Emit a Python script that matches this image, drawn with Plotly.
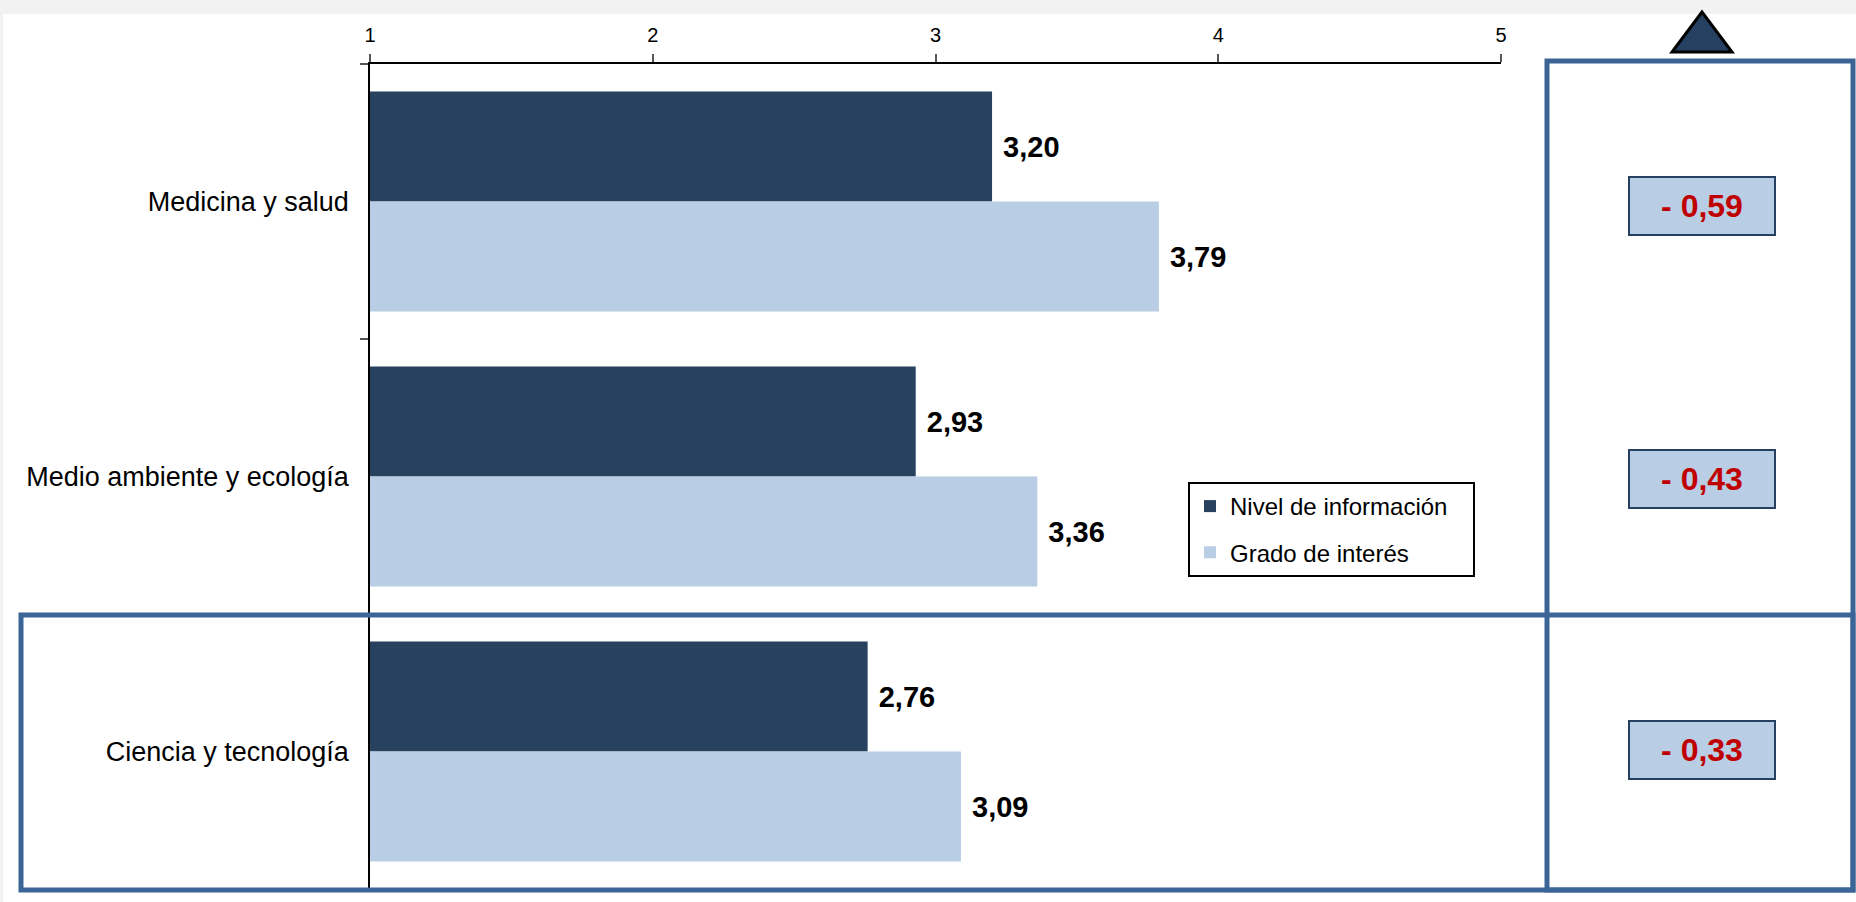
import plotly.graph_objects as go

# ---- data ----
categorias = ["Medicina y salud", "Medio ambiente y ecología", "Ciencia y tecnología"]
nivel_informacion = [3.20, 2.93, 2.76]
grado_interes = [3.79, 3.36, 3.09]
diferencias = [-0.59, -0.43, -0.33]
series_nombres = ["Nivel de información", "Grado de interés"]
x_ticks = [1, 2, 3, 4, 5]

W, H = 1856, 902
L, R, T, B = 370, 1501, 64, 889


def xp(px):
    return (px - L) / (R - L)


def yp(py):
    return (B - py) / (B - T)


def fmt(v):
    return f"{v:.2f}".replace(".", ",")


def fmt_diff(v):
    s = f"{abs(v):.2f}".replace(".", ",")
    return ("- " if v < 0 else "+ ") + s


FONT = "Arial, 'Liberation Sans', sans-serif"
DARK = "#27415F"
LIGHT = "#B9CDE5"
FRAME = "#3B6596"
PAD = "\u00a0" * 3  # extra right padding inside the legend box

fig = go.Figure()
fig.add_trace(go.Bar(
    y=categorias, x=nivel_informacion, orientation="h", name=series_nombres[0] + PAD,
    marker=dict(color=DARK, line=dict(width=0)), legendgroup="a",
    text=["\u00a0" + fmt(v) for v in nivel_informacion], textposition="outside",
    textfont=dict(family=FONT, size=29, color="black", weight="bold"),
    cliponaxis=False, constraintext="none", base=0,
))
fig.add_trace(go.Bar(
    y=categorias, x=grado_interes, orientation="h", name=series_nombres[1],
    marker=dict(color=LIGHT, line=dict(width=0)), legendgroup="b",
    text=["\u00a0" + fmt(v) for v in grado_interes], textposition="outside",
    textfont=dict(family=FONT, size=29, color="black", weight="bold"),
    cliponaxis=False, constraintext="none", base=0,
))

annotations = []
for c, d, ys in zip(categorias, diferencias, [-4, -2, 2]):
    annotations.append(dict(
        x=xp(1702), xref="paper", y=c, yref="y", text="<b>" + fmt_diff(d) + "</b>",
        showarrow=False, font=dict(family=FONT, size=32, color="#C00000"),
        bgcolor=LIGHT, bordercolor="#254061", borderwidth=2, borderpad=0,
        width=144, height=56, xanchor="center", yanchor="middle", yshift=ys,
    ))

shapes = [
    # grey page strip at top and left
    dict(type="rect", xref="paper", yref="paper", x0=xp(0), x1=xp(W), y0=yp(14), y1=yp(0),
         fillcolor="#F2F2F2", line=dict(width=0), layer="below"),
    dict(type="rect", xref="paper", yref="paper", x0=xp(0), x1=xp(3), y0=yp(H), y1=yp(0),
         fillcolor="#F2F2F2", line=dict(width=0), layer="below"),
    # frames
    dict(type="rect", xref="paper", yref="paper", x0=xp(1547), x1=xp(1853), y0=yp(890), y1=yp(61),
         line=dict(color=FRAME, width=5), fillcolor="rgba(0,0,0,0)", layer="above"),
    dict(type="rect", xref="paper", yref="paper", x0=xp(21), x1=xp(1853), y0=yp(890), y1=yp(615),
         line=dict(color=FRAME, width=5), fillcolor="rgba(0,0,0,0)", layer="above"),
    # triangle
    dict(type="path", xref="paper", yref="paper",
         path=f"M {xp(1702)} {yp(12)} L {xp(1672)} {yp(52)} L {xp(1732)} {yp(52)} Z",
         fillcolor="#254061", line=dict(color="black", width=3), layer="above"),
]

fig.update_layout(
    width=W, height=H,
    margin=dict(l=L, r=W - R, t=T, b=H - B, pad=0),
    paper_bgcolor="white", plot_bgcolor="white",
    barmode="group", bargap=0.2, bargroupgap=0,
    font=dict(family=FONT, color="black"),
    showlegend=True,
    legend=dict(
        x=xp(1188), y=yp(482), xanchor="left", yanchor="top",
        bgcolor="white", bordercolor="black", borderwidth=2,
        font=dict(family=FONT, size=24, color="black"),
        traceorder="grouped", tracegroupgap=12,
    ),
    xaxis=dict(
        side="top", range=[1, 5], tickvals=x_ticks, ticktext=[str(t) for t in x_ticks],
        showgrid=False, zeroline=False, showline=True, linecolor="black", linewidth=1.5,
        ticks="outside", ticklen=8, tickcolor="#555555", tickwidth=1.5,
        tickfont=dict(family=FONT, size=20, color="black"), ticklabelstandoff=4,
    ),
    yaxis=dict(
        categoryorder="array", categoryarray=categorias, autorange="reversed",
        showgrid=False, zeroline=False, showline=True, linecolor="black", linewidth=1.5,
        ticks="outside", ticklen=8, tickcolor="#555555", tickwidth=1.5, tickson="boundaries",
        tickfont=dict(family=FONT, size=27, color="black"), ticklabelstandoff=14,
    ),
    annotations=annotations,
    shapes=shapes,
)

fig.write_html(
    "out.html",
    config={"displayModeBar": False},
    post_script="document.body.style.margin='0';document.body.style.overflow='hidden';",
)
